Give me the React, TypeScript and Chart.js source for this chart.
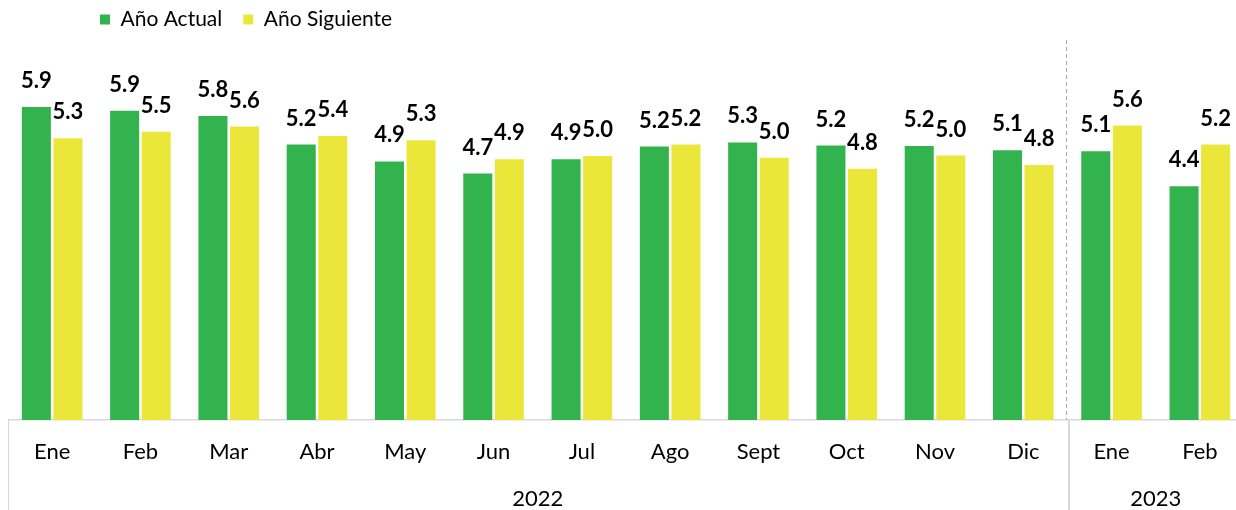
import React, { useEffect, useRef } from "react";
import { Chart, registerables } from "chart.js";

Chart.register(...registerables);

const MONTHS = ["Ene", "Feb", "Mar", "Abr", "May", "Jun", "Jul", "Ago", "Sept", "Oct", "Nov", "Dic", "Ene", "Feb"];
const YEARS = ["2022", "2023"];
const YEAR_COUNTS = [12, 2];
const ACTUAL = [5.93, 5.86, 5.76, 5.22, 4.9, 4.67, 4.94, 5.18, 5.26, 5.2, 5.19, 5.11, 5.09, 4.43];
const SIGUIENTE = [5.34, 5.46, 5.56, 5.38, 5.3, 4.94, 5.0, 5.22, 4.97, 4.76, 5.01, 4.83, 5.58, 5.22];
const SERIES_NAMES = ["Año Actual", "Año Siguiente"];

const GREEN = "#33b34d";
const YELLOW = "#ebe73a";
const FONT = "Lato";

// group boundaries (in category-index units) and group centres
const BOUNDS: number[] = [-0.5];
YEAR_COUNTS.forEach((c) => BOUNDS.push(BOUNDS[BOUNDS.length - 1] + c));
const YEAR_POS = YEAR_COUNTS.map((c, i) => BOUNDS[i] + c / 2);

const legendShift = {
  id: "legendShift",
  beforeDraw(chart: any) {
    const lg = chart.legend;
    if (lg) {
      lg.left = 71;
      lg.top = -12;
    }
  },
};

const dataLabels = {
  id: "dataLabels",
  afterDatasetsDraw(chart: any) {
    const ctx = chart.ctx;
    ctx.save();
    ctx.font = `bold 22px ${FONT}`;
    ctx.fillStyle = "#000";
    ctx.textAlign = "center";
    ctx.textBaseline = "alphabetic";
    chart.data.datasets.forEach((ds: any, di: number) => {
      const meta = chart.getDatasetMeta(di);
      meta.data.forEach((el: any, i: number) => {
        ctx.fillText(Number(ds.data[i]).toFixed(1), el.x, el.y - 19);
      });
    });
    ctx.restore();
  },
};

const separators = {
  id: "separators",
  afterDraw(chart: any) {
    const ctx = chart.ctx;
    const x2 = chart.scales.x2;
    const xs = chart.scales.x;
    const area = chart.chartArea;
    ctx.save();
    ctx.strokeStyle = "#d9d9d9";
    ctx.lineWidth = 2;
    BOUNDS.forEach((b, i) => {
      const px = x2.getPixelForValue(b) + (i === 0 ? 0 : 1.5);
      ctx.beginPath();
      ctx.moveTo(px, xs.top);
      ctx.lineTo(px, chart.height);
      ctx.stroke();
    });
    ctx.strokeStyle = "#a6a6a6";
    ctx.lineWidth = 1;
    ctx.setLineDash([4, 3]);
    BOUNDS.slice(1, -1).forEach((b) => {
      const px = Math.round(x2.getPixelForValue(b)) - 0.5;
      ctx.beginPath();
      ctx.moveTo(px, area.top);
      ctx.lineTo(px, area.bottom);
      ctx.stroke();
    });
    ctx.restore();
  },
};

export default function App() {
  const ref = useRef<HTMLCanvasElement>(null);
  useEffect(() => {
    if (!ref.current) return;
    const chart = new Chart(ref.current, {
      type: "bar",
      data: {
        labels: MONTHS,
        datasets: [
          { label: SERIES_NAMES[0], data: ACTUAL, backgroundColor: GREEN, borderWidth: 0, categoryPercentage: 0.715, barPercentage: 0.92 },
          { label: SERIES_NAMES[1], data: SIGUIENTE, backgroundColor: YELLOW, borderWidth: 0, categoryPercentage: 0.715, barPercentage: 0.92 },
        ],
      },
      options: {
        responsive: false,
        animation: false,
        layout: { padding: 0 },
        plugins: {
          legend: {
            position: "top",
            align: "start",
            maxHeight: 40,
            labels: {
              font: { family: FONT, size: 21 },
              color: "#000",
              boxWidth: 10,
              boxHeight: 10,
              padding: 21,
            },
          },
          tooltip: { enabled: false },
        },
        scales: {
          x: {
            type: "category",
            position: "bottom",
            grid: { display: false, drawTicks: false },
            border: { display: true, color: "#d9d9d9", width: 1.5 },
            ticks: { font: { family: FONT, size: 22 }, color: "#000", padding: 19, maxRotation: 0, autoSkip: false },
            afterFit: (s: any) => {
              s.height = 45;
            },
          },
          x2: {
            type: "linear",
            position: "bottom",
            offset: false,
            min: BOUNDS[0],
            max: BOUNDS[BOUNDS.length - 1],
            grid: { display: false, drawTicks: false, offset: false },
            border: { display: false },
            afterBuildTicks: (s: any) => {
              s.ticks = YEAR_POS.map((v) => ({ value: v }));
            },
            ticks: {
              font: { family: FONT, size: 22 },
              color: "#000",
              padding: 21,
              maxRotation: 0,
              autoSkip: false,
              callback: (v: any) => {
                const i = YEAR_POS.indexOf(Number(v));
                return i >= 0 ? YEARS[i] : "";
              },
            },
            afterFit: (s: any) => {
              s.height = 45;
            },
          },
          y: {
            display: false,
            min: 0,
            max: 7.2,
          },
        },
      },
      plugins: [legendShift, dataLabels, separators],
    });
    return () => chart.destroy();
  }, []);
  return (
    <div style={{ position: "absolute", left: 8, top: 0, width: 1228, height: 510, overflow: "hidden" }}>
      <canvas ref={ref} width={1236} height={510} style={{ display: "block" }} />
    </div>
  );
}
